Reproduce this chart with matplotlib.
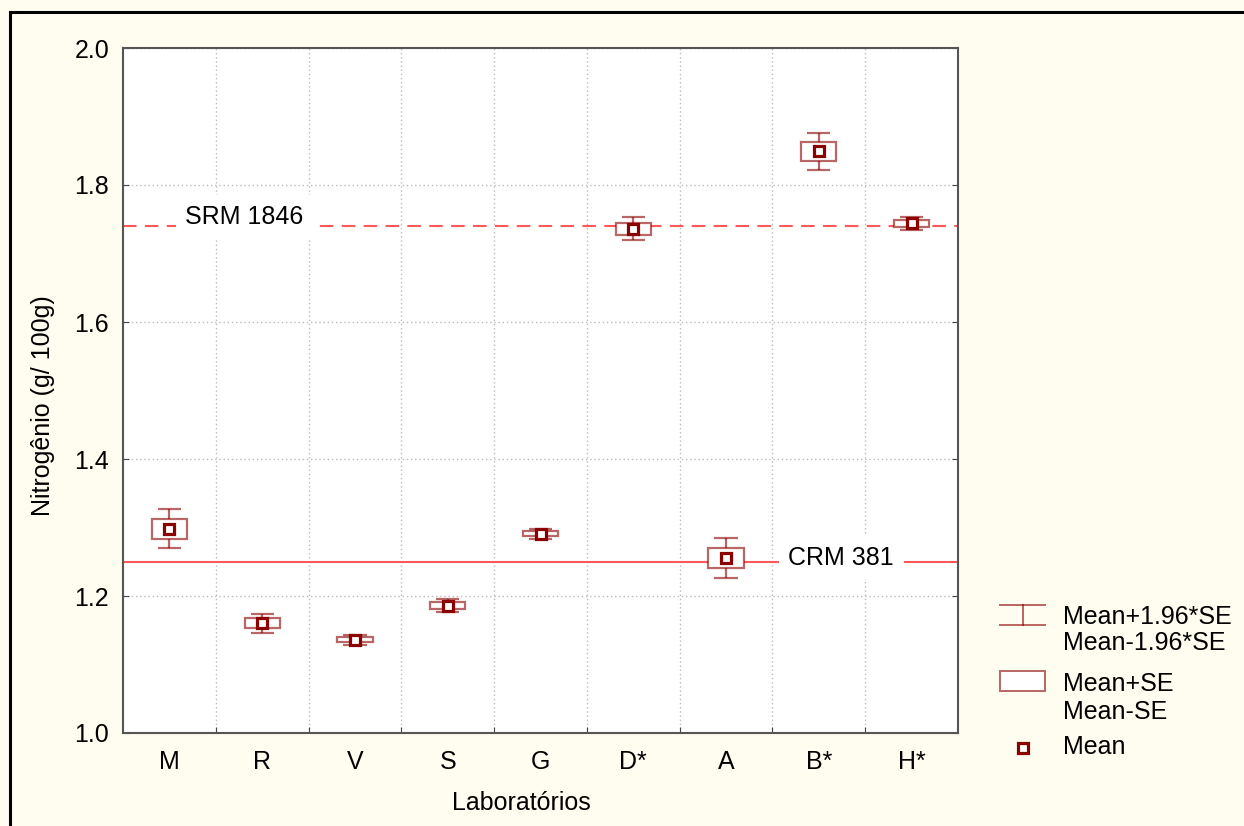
import matplotlib
matplotlib.use("Agg")
import matplotlib.pyplot as plt
import numpy as np
from matplotlib.patches import Rectangle
from matplotlib.lines import Line2D

plt.rcParams['font.family'] = ['Liberation Sans', 'DejaVu Sans']

# data
labs = ['M', 'R', 'V', 'S', 'G', 'D*', 'A', 'B*', 'H*']
means = [1.298, 1.160, 1.136, 1.186, 1.291, 1.736, 1.256, 1.849, 1.744]
se = [0.0146, 0.0073, 0.0037, 0.0050, 0.0037, 0.0085, 0.0148, 0.0137, 0.0047]
ref_vals = [1.74, 1.25]
ref_names = ['SRM 1846', 'CRM 381']

dark = '#8B0000'
soft = (0.545, 0.0, 0.0, 0.6)
refcol = '#FF5A5A'
bg = '#FFFCF0'
fs = 18

fig = plt.figure(figsize=(12.44, 8.26), dpi=100, facecolor=bg)
ax = fig.add_axes([123 / 1244, 93 / 826, 835 / 1244, 685 / 826])
ax.set_facecolor('white')

x = np.arange(len(labs))
means = np.array(means)
se = np.array(se)
lo2, hi2 = means - 1.96 * se, means + 1.96 * se

# reference lines
ax.axhline(ref_vals[0], color=refcol, lw=1.5, dashes=(6.5, 4), zorder=2)
ax.axhline(ref_vals[1], color=refcol, lw=1.5, zorder=2)
ax.text(0.81, ref_vals[0] + 0.014, ref_names[0], fontsize=fs, ha='center', va='center',
        bbox=dict(facecolor='white', edgecolor='none', pad=7), zorder=3)
ax.text(7.24, ref_vals[1] + 0.006, ref_names[1], fontsize=fs, ha='center', va='center',
        bbox=dict(facecolor='white', edgecolor='none', pad=7), zorder=3)

# whiskers (mean +/- 1.96*SE)
ax.vlines(x, lo2, hi2, color=soft, lw=1.6, zorder=4)
ax.hlines(lo2, x - 0.125, x + 0.125, color=soft, lw=1.6, zorder=4)
ax.hlines(hi2, x - 0.125, x + 0.125, color=soft, lw=1.6, zorder=4)

# boxes (mean +/- SE)
bw = 0.38
for xi, m, s in zip(x, means, se):
    ax.add_patch(Rectangle((xi - bw / 2, m - s), bw, 2 * s, facecolor='white',
                           edgecolor=soft, lw=1.6, zorder=5))

ax.plot(x, means, 's', ms=7, mfc='white', mec=dark, mew=2.3, zorder=6)

ax.set_xlim(-0.5, len(labs) - 0.5)
ax.set_ylim(1.0, 2.0)
ax.set_yticks([1.0, 1.2, 1.4, 1.6, 1.8, 2.0])
ax.set_yticklabels(['1.0', '1.2', '1.4', '1.6', '1.8', '2.0'])
ax.set_xticks(np.arange(0.5, len(labs) - 0.5, 1))
ax.set_xticklabels([])
ax.set_xticks(x, minor=True)
ax.set_xticklabels(labs, minor=True)
ax.tick_params(axis='x', which='minor', length=0, pad=12, labelsize=fs)
ax.tick_params(axis='x', which='major', direction='in', length=4, color='#444444')
ax.tick_params(axis='y', direction='in', length=4, left=True, right=True,
               labelsize=fs, pad=10, color='#444444')
ax.grid(True, which='major', color='#BBBBBB', ls=(0, (1, 2)), lw=1)

for sp in ax.spines.values():
    sp.set_color('#555555')
    sp.set_linewidth(1.5)

ax.set_xlabel('Laboratórios', fontsize=fs)
ax.xaxis.set_label_coords(0.477, -0.085)
ax.set_ylabel('Nitrogênio (g/ 100g)', fontsize=fs)
ax.yaxis.set_label_coords(-0.082, 0.478)

# legend drawn in pixel coordinates
lg = fig.add_axes([0, 0, 1, 1], facecolor='none')
lg.set_xlim(0, 1244)
lg.set_ylim(826, 0)
lg.axis('off')
lg.add_line(Line2D([1000, 1045], [605, 605], color=soft, lw=1.4))
lg.add_line(Line2D([1000, 1045], [625, 625], color=soft, lw=1.4))
lg.add_line(Line2D([1023, 1023], [605, 625], color=soft, lw=1.4))
lg.add_patch(Rectangle((1000, 671), 45, 20, facecolor='white', edgecolor=soft, lw=1.4))
lg.plot([1023], [747.5], 's', ms=7, mfc='white', mec=dark, mew=2.3)
lg.text(1063, 617, 'Mean+1.96*SE', fontsize=fs, va='center')
lg.text(1063, 643, 'Mean-1.96*SE', fontsize=fs, va='center')
lg.text(1063, 684, 'Mean+SE', fontsize=fs, va='center')
lg.text(1063, 712, 'Mean-SE', fontsize=fs, va='center')
lg.text(1063, 747, 'Mean', fontsize=fs, va='center')

# outer frame (left and top edges visible)
lg.add_line(Line2D([10, 10], [12, 830], color='black', lw=2.2))
lg.add_line(Line2D([10, 1250], [12, 12], color='black', lw=2.2))

fig.savefig('out.png', dpi=100, facecolor=bg)
